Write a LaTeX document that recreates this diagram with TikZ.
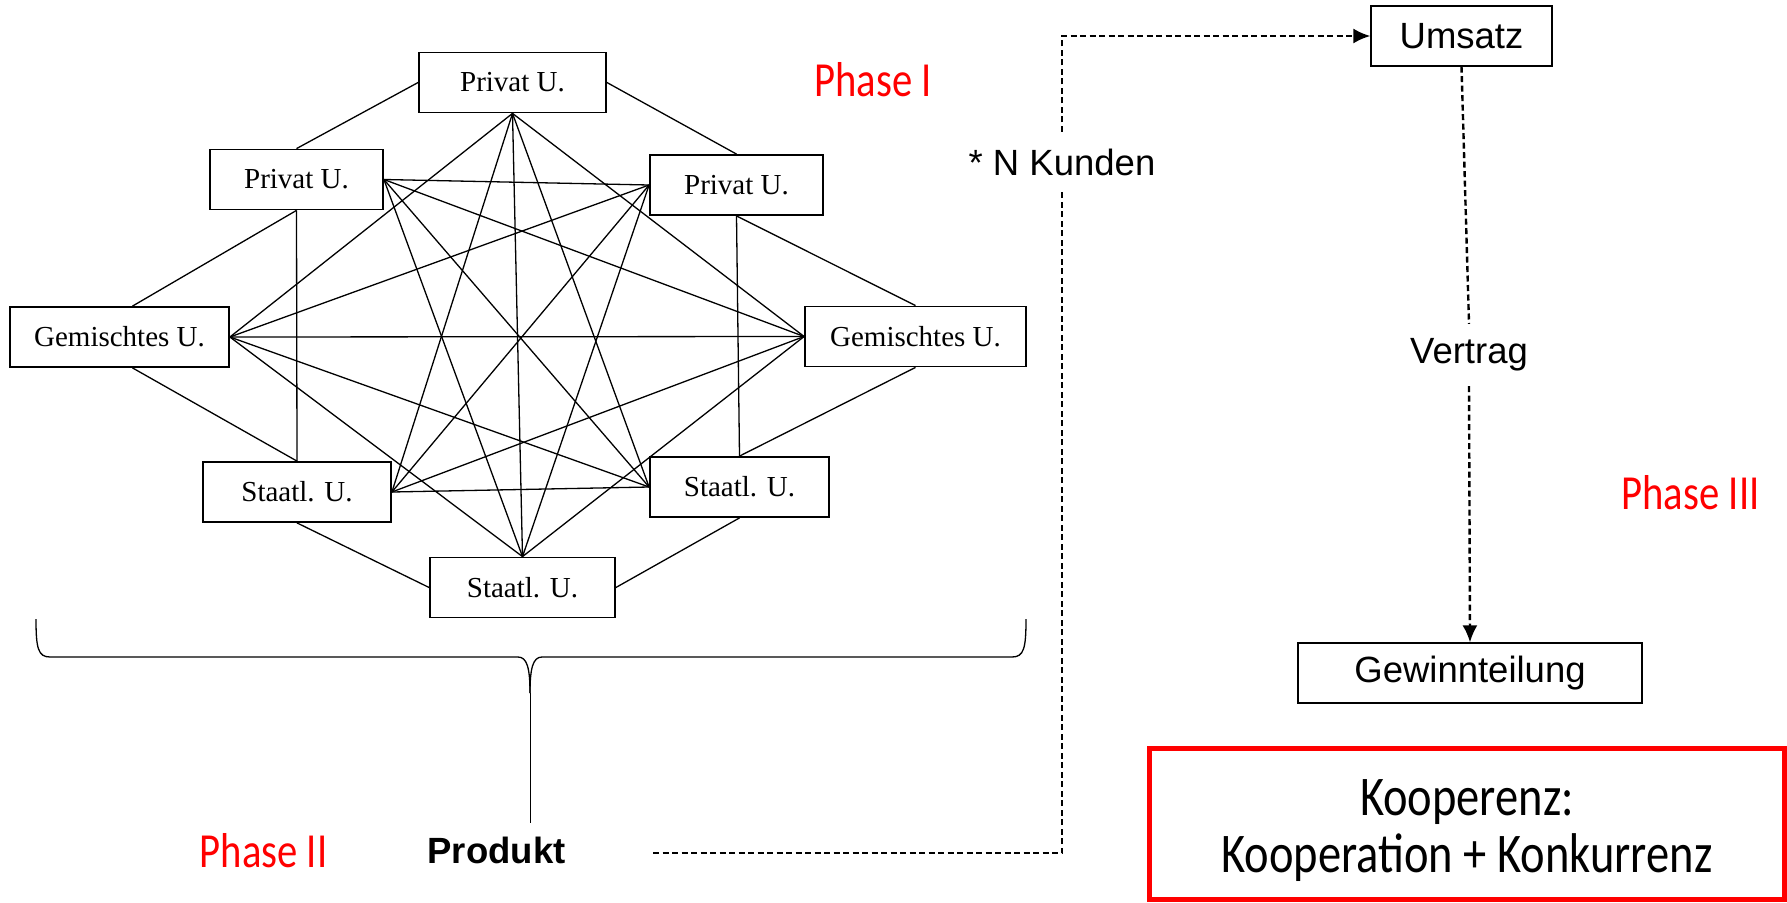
\documentclass[tikz,border=0pt]{standalone}
\usepackage{fontspec}
\setmainfont{Liberation Serif}
\newfontfamily\arialfont{Liberation Sans}
\newfontfamily\calibrifont[FakeStretch=0.83]{Carlito}
\usetikzlibrary{arrows.meta}

\begin{document}
\begin{tikzpicture}[x=1pt, y=-1pt,
  unt/.style={draw, line width=1.8pt, minimum height=60pt, inner sep=0pt, font=\fontsize{29}{34}\selectfont},
  kette/.style={line width=1.3pt},
  phase/.style={text=red, anchor=base, inner sep=0pt, font=\calibrifont\fontsize{49}{58}\selectfont},
  sbox/.style={draw, line width=1.2pt, minimum height=60pt, inner sep=0pt, font=\arialfont\fontsize{36.5}{44}\selectfont},
  stext/.style={inner sep=0pt, font=\arialfont\fontsize{36.5}{44}\selectfont},
  fluss/.style={line width=2.4pt, dash pattern=on 6pt off 3.5pt},
  pfeil/.style={fluss, -{Latex[length=17pt,width=15pt]}}]

\useasboundingbox (0,0) rectangle (1787,902);

% ---- Unternehmen (Phase I)
\node[unt, minimum width=187pt] (P1) at (512.5,82.5) {Privat U.};
\node[unt, minimum width=173pt] (P2) at (296.5,179.5) {Privat U.};
\node[unt, minimum width=173pt] (P3) at (736.5,185) {Privat U.};
\node[unt, minimum width=219pt] (G1) at (119.5,337) {Gemischtes U.};
\node[unt, minimum width=221pt] (G2) at (915.5,336.5) {Gemischtes U.};
\node[unt, minimum width=188pt] (S1) at (297,492) {Staatl. U.};
\node[unt, minimum width=179pt] (S2) at (739.5,487) {Staatl. U.};
\node[unt, minimum width=185pt] (S3) at (522.5,587.5) {Staatl. U.};

% innere Ankerpunkte
\coordinate (iP1) at (P1.south);
\coordinate (iP2) at (P2.east);
\coordinate (iP3) at (P3.west);
\coordinate (iG1) at (G1.east);
\coordinate (iG2) at (G2.west);
\coordinate (iS1) at (S1.east);
\coordinate (iS2) at (S2.west);
\coordinate (iS3) at (S3.north);

\foreach \a/\b in {P1/G1, P1/S1, P1/S3, P1/S2, P1/G2, P2/P3, P2/G2, P2/S2, P2/S3,
                   P3/G1, P3/S1, P3/S3, G1/G2, G1/S2, G1/S3, G2/S1, G2/S3, S1/S2}
  \draw[kette] (i\a) -- (i\b);

% aeusserer Ring
\draw[kette] (P1.west) -- (P2.north);
\draw[kette] (P1.east) -- (P3.north);
\draw[kette] (P2.south) -- ([xshift=13pt]G1.north);
\draw[kette] (P2.south) -- (S1.north);
\draw[kette] ([xshift=13pt]G1.south) -- (S1.north);
\draw[kette] (S1.south) -- (S3.west);
\draw[kette] (S3.east) -- (S2.south);
\draw[kette] (S2.north) -- (G2.south);
\draw[kette] (S2.north) -- (P3.south);
\draw[kette] (G2.north) -- (P3.south);

% ---- Klammer und Produkt (Phase II)
\coordinate (spitze) at (530,693);
\draw[kette] (36,619) .. controls (36,648) and (38,657) .. (50,657) -- (518,657) .. controls (527,657) and (530,668) .. (spitze);
\draw[kette] (1026,619) .. controls (1026,648) and (1024,657) .. (1012,657) -- (542,657) .. controls (533,657) and (530,668) .. (spitze);
\node[stext, anchor=base, inner ysep=13pt, font=\arialfont\bfseries\fontsize{36.5}{44}\selectfont] (produkt) at (496.5,863) {Produkt};
\draw[line width=1pt] (spitze) -- (spitze |- produkt.north);

\node[phase] (ph1) at (873,96) {Phase I};
\node[phase] (ph2) at (263.5,867) {Phase II};
\node[phase] (ph3) at (1690.5,509) {Phase III};

% ---- Umsatz und Gewinn (Phase III)
\node[sbox, minimum width=181pt] (umsatz) at (1461.5,36) {Umsatz};
\node[sbox, minimum width=344pt] (gewinn) at (1470,673) {Gewinnteilung};
\node[stext, minimum height=60pt] (kunden) at (1062,162) {* N Kunden};
\node[stext, minimum height=62pt] (vertrag) at (1469,355) {Vertrag};

\coordinate (pende) at (653,853);
\draw[fluss] (pende) -| (kunden.south);
\draw[pfeil] (kunden.north) |- (umsatz.west);
\draw[fluss] (umsatz.south) -- (vertrag.north);
\draw[pfeil] (vertrag.south) -- (gewinn.north);

\node[draw=red, line width=5pt, minimum width=635pt, minimum height=151pt, align=center,
      font=\calibrifont\fontsize{56}{57}\selectfont] (koop) at (1467,824)
      {\rule{0pt}{49pt}Kooperenz:\\Kooperation + Konkurrenz};
\end{tikzpicture}
\end{document}
